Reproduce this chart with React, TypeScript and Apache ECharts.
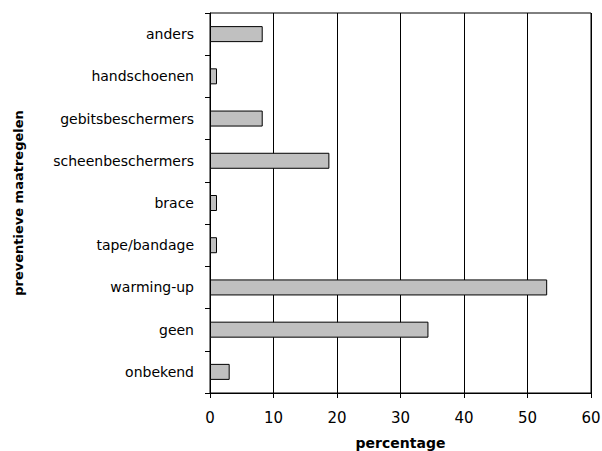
import React, { useEffect, useRef } from "react";
import * as echarts from "echarts";

const categories = [
  "anders",
  "handschoenen",
  "gebitsbeschermers",
  "scheenbeschermers",
  "brace",
  "tape/bandage",
  "warming-up",
  "geen",
  "onbekend",
];
const values = [8.3, 1.1, 8.3, 18.8, 1.1, 1.1, 53.1, 34.4, 3.1];
const xTicks = { min: 0, max: 60, interval: 10 };
const xName = "percentage";
const yName = "preventieve maatregelen";

export default function App() {
  const ref = useRef<HTMLDivElement>(null);
  useEffect(() => {
    if (!ref.current) return;
    const chart = echarts.init(ref.current, null, { renderer: "svg" });
    const font = "DejaVu Sans";
    chart.setOption({
      animation: false,
      textStyle: { fontFamily: font, color: "#000" },
      grid: {
        left: 210,
        top: 13,
        width: 381,
        height: 380,
        containLabel: false,
        outerBoundsMode: "none",
        show: true,
        borderColor: "#000",
        borderWidth: 1,
        backgroundColor: "transparent",
      },
      xAxis: {
        type: "value",
        min: xTicks.min,
        max: xTicks.max,
        interval: xTicks.interval,
        name: xName,
        nameLocation: "middle",
        nameGap: 43,
        nameTextStyle: { fontFamily: font, fontWeight: "bold", fontSize: 14, color: "#000" },
        axisLine: { show: true, lineStyle: { color: "#000", width: 1 } },
        axisTick: { show: true, length: 5, lineStyle: { color: "#000" } },
        axisLabel: { fontFamily: font, fontSize: 15, color: "#000", margin: 17 },
        splitLine: { show: true, lineStyle: { color: "#000", width: 1 } },
      },
      yAxis: {
        type: "category",
        data: categories,
        inverse: true,
        name: yName,
        nameLocation: "middle",
        nameGap: 185,
        nameRotate: 90,
        nameTextStyle: { fontFamily: font, fontWeight: "bold", fontSize: 13, color: "#000" },
        axisLine: { show: true, lineStyle: { color: "#000", width: 1 } },
        axisTick: { show: true, length: 5, alignWithLabel: false, lineStyle: { color: "#000" } },
        axisLabel: { fontFamily: font, fontSize: 14, color: "#000", margin: 16 },
        splitLine: { show: false },
      },
      series: [
        {
          type: "bar",
          data: values,
          barWidth: 16,
          itemStyle: { color: "#c0c0c0", borderColor: "#000", borderWidth: 1 },
        },
      ],
    });
    return () => chart.dispose();
  }, []);
  return <div ref={ref} style={{ width: 602, height: 451, position: "absolute", left: 0, top: 0 }} />;
}
